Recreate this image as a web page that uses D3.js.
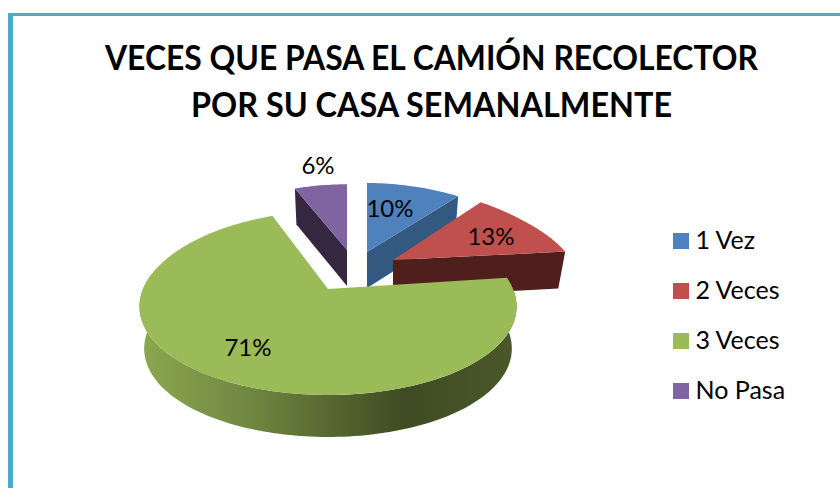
<!DOCTYPE html>
<html><head><meta charset="utf-8">
<script src="https://cdn.jsdelivr.net/npm/d3@7/dist/d3.min.js"></script>
<style>html,body{margin:0;padding:0;background:#fff}svg{display:block}</style>
</head><body><svg id="c" width="840" height="488"></svg>
<script>
const categories = ["1 Vez","2 Veces","3 Veces","No Pasa"];
const values = [10,13,71,6];
const labels = ["10%","13%","71%","6%"];
const colors = ["#4f81bd","#c0504d","#9bbb59","#8064a2"];
const wallColors = ["#335981","#4f1f1e","url(#gw)","#35273f"];
const titleLines = ["VECES QUE PASA EL CAMIÓN RECOLECTOR","POR SU CASA SEMANALMENTE"];

// 3D look: each exploded slice has its own apex, radii and perspective
const apexX=[367,393,328,347], apexY=[252,260,289,250];
const radX=[185,178,185,174], radY=[69,66,91.75,73], persp=[0,-0.1,0.155,0.1];
const depth=[36,37,42,36], wallScale=[0.97,0.96,0.975,0.97];
const labelDX=[23,98,-80,-29], labelDY=[-44,-24,58,-85];

const svg=d3.select("#c");
const defs=svg.append("defs");
const g=defs.append("linearGradient").attr("id","gw");
[[0,"#8ca850"],[.3,"#6f8640"],[.7,"#3f4b22"],[1,"#4b5829"]].forEach(s=>g.append("stop").attr("offset",s[0]).attr("stop-color",s[1]));

svg.append("rect").attr("x",8).attr("y",13).attr("width",832).attr("height",3).attr("fill","#4bacc6");
svg.append("rect").attr("x",8).attr("y",13).attr("width",5).attr("height",475).attr("fill","#4bacc6");

const title=svg.append("g").attr("font-family","Lato").attr("font-weight",700).attr("font-size",35).attr("text-anchor","middle").attr("fill","#000");
const titleY=d3.scalePoint().domain(titleLines).range([70,117]);
const titleW=[653,481];
titleLines.forEach((t,i)=>title.append("text").attr("x",431.5).attr("y",titleY(t)).attr("textLength",titleW[i]).attr("lengthAdjust","spacingAndGlyphs").text(t));

const arcs=d3.pie().sort(null).value(d=>d)(values);
function proj(i,th,f,sx,dy){
  const u=Math.sin(th)*f,v=-Math.cos(th)*f;
  return [apexX[i]+sx*radX[i]*u*(1+0.2*v), apexY[i]+dy+radY[i]*v*(1+persp[i]*v)];
}
const line=d3.line();
function rim(i,a0,a1,sx,dy){
  const n=Math.max(2,Math.ceil((a1-a0)*40));
  return d3.range(n+1).map(k=>proj(i,a0+(a1-a0)*k/n,1,sx,dy));
}
// Drawing order, back to front
[3,0,1,2].forEach(i=>{
  const a=arcs[i], d=depth[i], s=wallScale[i];
  let wall;
  if(i===2){
    const a0=a.startAngle, a1=Math.PI*1.55;
    wall=[...rim(i,a0,a1,1,0),...rim(i,a0,a1,s,d).reverse()];
  } else {
    const edge=i===3?a.startAngle:a.endAngle;
    wall=[proj(i,edge,0,1,0),proj(i,edge,1,1,0),proj(i,edge,1,s,d),proj(i,edge,0,s,d)];
  }
  svg.append("path").attr("d",line(wall)+"Z").attr("fill",wallColors[i]);
  const top=[[apexX[i],apexY[i]],...rim(i,a.startAngle,a.endAngle,1,0)];
  svg.append("path").attr("d",line(top)+"Z").attr("fill",colors[i]);
});

const lab=svg.append("g").attr("font-family","Lato").attr("font-size",24).attr("text-anchor","middle").attr("fill","#000");
labels.forEach((t,i)=>lab.append("text").attr("x",apexX[i]+labelDX[i]).attr("y",apexY[i]+labelDY[i]+8.5).text(t));

const legY=d3.scalePoint().domain(categories).range([233,383]);
const leg=svg.append("g").attr("font-family","Lato").attr("font-size",25).attr("fill","#000");
categories.forEach((c,i)=>{
  leg.append("rect").attr("x",673).attr("y",legY(c)).attr("width",16).attr("height",16).attr("fill",colors[i]);
  leg.append("text").attr("x",695.5).attr("y",legY(c)+16).text(c);
});
</script></body></html>
